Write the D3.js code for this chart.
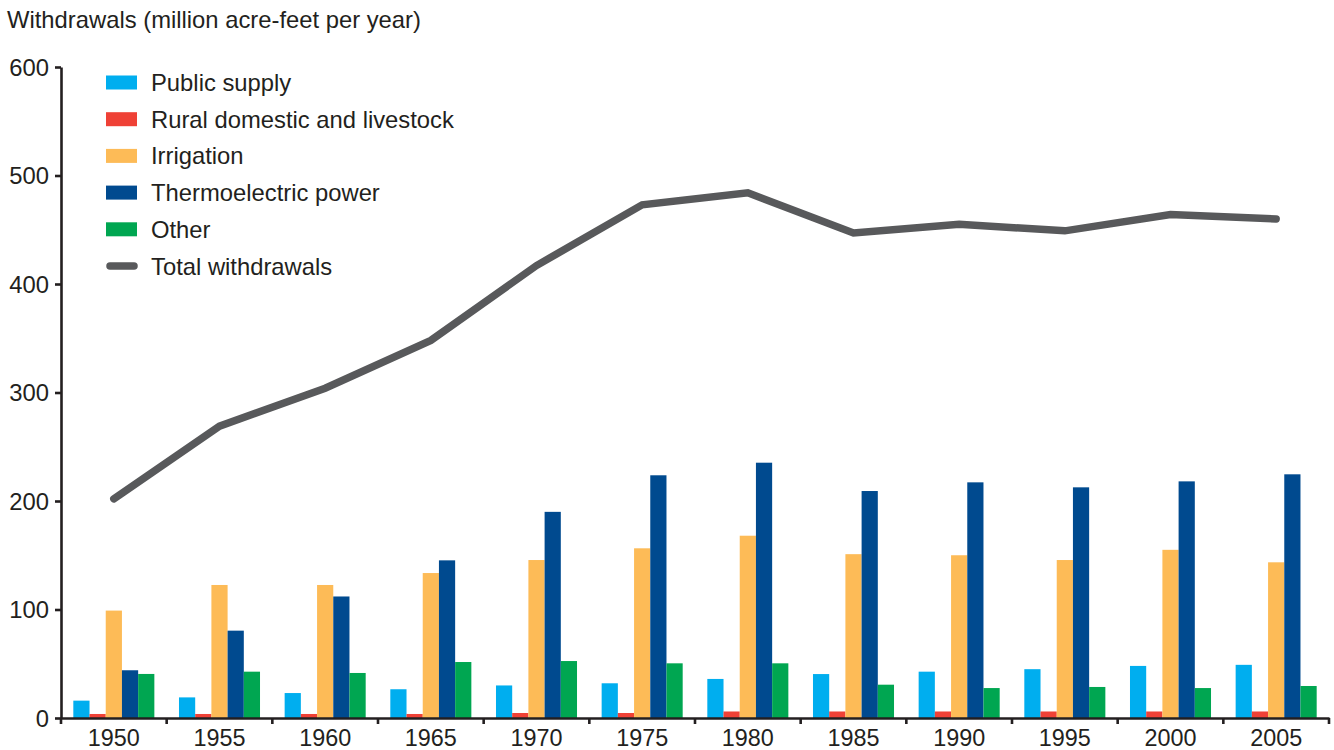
<!DOCTYPE html>
<html>
<head>
<meta charset="utf-8">
<script src="https://cdn.jsdelivr.net/npm/d3@7"></script>
<style>
  html, body { margin: 0; padding: 0; background: #fff; }
  svg { display: block; }
  text { font-family: "Liberation Sans", Arial, Helvetica, sans-serif; fill: #231f20; }
</style>
</head>
<body>
<svg id="chart" width="1334" height="750"></svg>
<script>
const years = ["1950","1955","1960","1965","1970","1975","1980","1985","1990","1995","2000","2005"];
const seriesNames = ["Public supply","Rural domestic and livestock","Irrigation","Thermoelectric power","Other"];
const publicSupply = [16, 19, 23, 26.5, 30, 32, 36, 40.5, 42.7, 45, 48, 49];
const ruralDomestic = [3.7, 3.7, 3.7, 3.7, 4.6, 4.6, 6, 6, 6, 6, 6, 6];
const irrigation = [99, 122.6, 122.6, 133.6, 145.6, 156.4, 168, 151, 150, 145.6, 155, 143.5];
const thermoelectric = [44, 80.5, 112, 145.3, 190, 223.7, 235.3, 209.2, 217.2, 212.6, 218.1, 224.6];
const other = [40.6, 42.7, 41.5, 51.6, 52.5, 50.4, 50.4, 30.7, 27.6, 28.6, 27.6, 29.5];
const totalWithdrawals = [202, 269, 304, 348, 417, 473, 484, 447, 455, 449, 464, 460];
const yTicks = [0, 100, 200, 300, 400, 500, 600];
const totalName = "Total withdrawals";
const axisTitle = "Withdrawals (million acre-feet per year)";

(function () {
const colors = ["#00aeef", "#ef4136", "#fdbb57", "#004a8f", "#00a651"];
const lineColor = "#58595b";
const seriesValues = [publicSupply, ruralDomestic, irrigation, thermoelectric, other];
const fs = 23.8;

const svg = d3.select("#chart");
const mLeft = 61, mRight = 1329, mTop = 67, mBottom = 718;

const x0 = d3.scaleBand().domain(years).range([mLeft, mRight]).paddingInner(0).paddingOuter(0);
const x1 = d3.scaleBand().domain(seriesNames).range([0, x0.bandwidth()]).paddingInner(0).paddingOuter(0.76);
const y = d3.scaleLinear().domain([0, 600]).range([mBottom, mTop]);

// title
svg.append("text").attr("x", 7).attr("y", 28).attr("font-size", fs).text(axisTitle);

// bars
seriesNames.forEach((name, si) => {
  svg.append("g").selectAll("rect")
    .data(years.map((yr, i) => ({ yr, v: seriesValues[si][i] })))
    .join("rect")
    .attr("x", d => x0(d.yr) + x1(name))
    .attr("y", d => y(d.v))
    .attr("width", x1.bandwidth())
    .attr("height", d => y(0) - y(d.v))
    .attr("fill", colors[si]);
});

// total line
const line = d3.line()
  .x((d, i) => x0(years[i]) + x0.bandwidth() / 2)
  .y(d => y(d));
svg.append("path")
  .datum(totalWithdrawals)
  .attr("d", line)
  .attr("fill", "none")
  .attr("stroke", lineColor)
  .attr("stroke-width", 7.5)
  .attr("stroke-linecap", "round")
  .attr("stroke-linejoin", "miter");

// y axis
const yAxis = d3.axisLeft(y).tickValues(yTicks).tickSize(6).tickPadding(6).tickSizeOuter(0);
const gy = svg.append("g").attr("transform", `translate(${mLeft},0)`).call(yAxis);
gy.select(".domain").attr("stroke", "#231f20").attr("stroke-width", 2.6);
gy.selectAll(".tick line").attr("stroke", "#231f20").attr("stroke-width", 2.6);
gy.selectAll(".tick text").attr("font-size", fs).attr("font-family", "Liberation Sans, Arial, sans-serif").attr("fill", "#231f20").attr("dy", "0.34em");

// x axis
const xAxis = d3.axisBottom(x0).tickSize(0).tickPadding(11);
const gx = svg.append("g").attr("transform", `translate(0,${mBottom})`).call(xAxis);
gx.select(".domain").attr("stroke", "#231f20").attr("stroke-width", 2.6);
gx.selectAll(".tick text").attr("font-size", 23.4).attr("font-family", "Liberation Sans, Arial, sans-serif").attr("fill", "#231f20").attr("dy", "0.71em");
// boundary ticks between bands
const boundaries = years.map(yr => x0(yr)).concat([x0(years[years.length - 1]) + x0.bandwidth()]);
gx.selectAll(".btick").data(boundaries).join("line")
  .attr("class", "btick")
  .attr("x1", d => d).attr("x2", d => d)
  .attr("y1", 0).attr("y2", 6)
  .attr("stroke", "#231f20").attr("stroke-width", 2.6);

// legend
const legend = svg.append("g");
const rowY = d3.scaleLinear().domain([0, 1]).range([82.5, 119.2]);
seriesNames.forEach((name, i) => {
  const cy = rowY(i);
  legend.append("rect").attr("x", 106).attr("y", cy - 7).attr("width", 31).attr("height", 14).attr("fill", colors[i]);
  legend.append("text").attr("x", 151).attr("y", cy + 8.5).attr("font-size", fs).text(name);
});
{
  const cy = rowY(5);
  legend.append("line").attr("x1", 110).attr("x2", 134).attr("y1", cy).attr("y2", cy)
    .attr("stroke", lineColor).attr("stroke-width", 7.5).attr("stroke-linecap", "round");
  legend.append("text").attr("x", 151).attr("y", cy + 8.5).attr("font-size", fs).text(totalName);
}
})();
</script>
</body>
</html>
